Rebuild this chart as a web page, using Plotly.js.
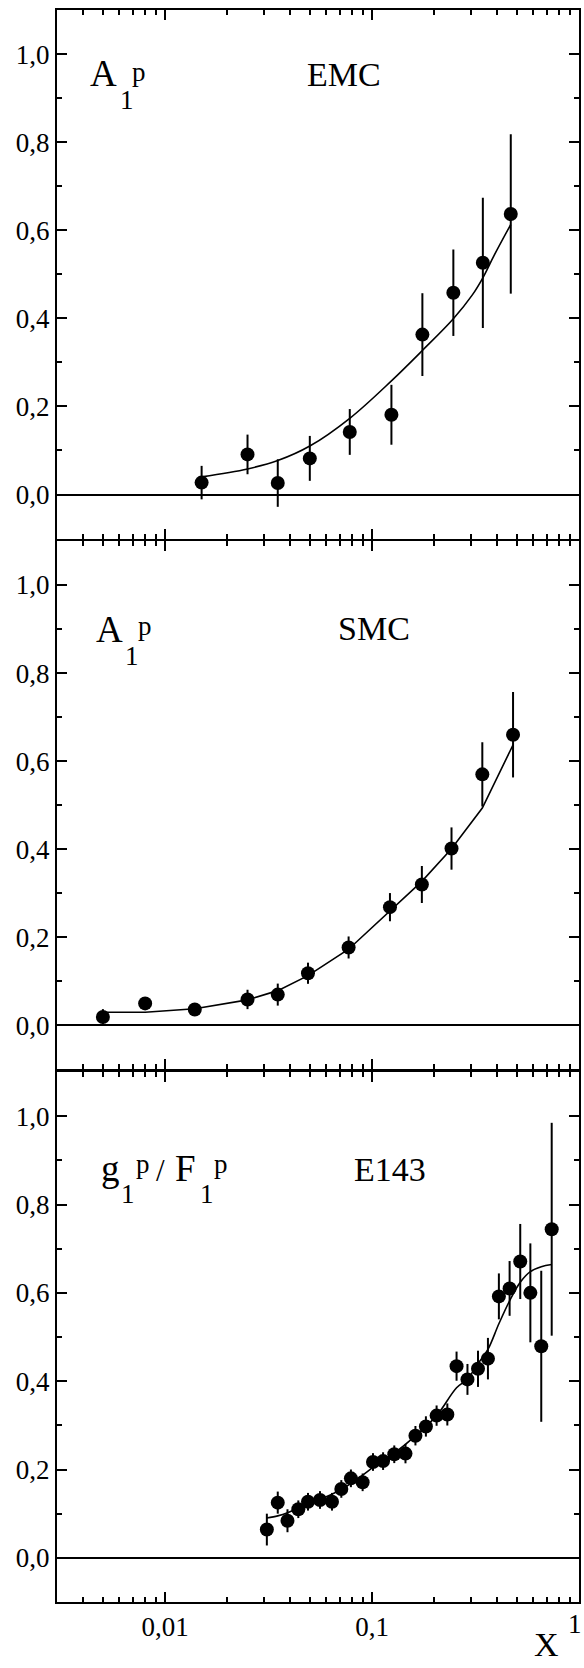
<!DOCTYPE html>
<html><head><meta charset="utf-8">
<script src="https://cdn.plot.ly/plotly-3.0.1.min.js"></script>
<style>html,body{margin:0;padding:0;background:#fff}</style>
</head><body>
<div id="chart" style="width:584px;height:1668px"></div>
<script>
// ---- EMC ----
const emcX   = [0.0150, 0.0250, 0.0350, 0.0500, 0.0780, 0.1240, 0.1750, 0.2470, 0.3430, 0.4680];
const emcY   = [0.027, 0.091, 0.026, 0.082, 0.142, 0.181, 0.363, 0.458, 0.526, 0.637];
const emcErr = [0.038, 0.045, 0.054, 0.051, 0.052, 0.068, 0.094, 0.098, 0.148, 0.181];
const emcFitX = [0.0150, 0.0250, 0.0350, 0.0500, 0.0780, 0.1240, 0.1750, 0.2470, 0.3040, 0.3430, 0.3900, 0.4680];
const emcFitY = [0.040, 0.058, 0.077, 0.110, 0.173, 0.258, 0.327, 0.399, 0.452, 0.492, 0.544, 0.613];
// ---- SMC ----
const smcX   = [0.0050, 0.0080, 0.0139, 0.0250, 0.0350, 0.0490, 0.0770, 0.1220, 0.1740, 0.2420, 0.3410, 0.4800];
const smcY   = [0.019, 0.050, 0.036, 0.059, 0.070, 0.1185, 0.177, 0.2685, 0.320, 0.4016, 0.570, 0.660];
const smcErr = [0.018, 0.010, 0.010, 0.022, 0.025, 0.024, 0.025, 0.032, 0.042, 0.048, 0.073, 0.097];
const smcFitY = [0.030, 0.030, 0.038, 0.058, 0.079, 0.113, 0.173, 0.260, 0.327, 0.401, 0.4935, 0.637];
// ---- E143 ----
const e143X = [0.031, 0.035, 0.039, 0.044, 0.049, 0.056, 0.064, 0.071, 0.079, 0.090, 0.101, 0.113, 0.128, 0.145,
               0.162, 0.182, 0.205, 0.231, 0.256, 0.289, 0.325, 0.363, 0.410, 0.462, 0.520, 0.582, 0.657, 0.738];
const e143Y = [0.064, 0.125, 0.084, 0.110, 0.127, 0.131, 0.127, 0.156, 0.180, 0.171, 0.217, 0.219, 0.2345, 0.236,
               0.2765, 0.2975, 0.322, 0.3246, 0.434, 0.404, 0.428, 0.451, 0.592, 0.610, 0.671, 0.600, 0.479, 0.744];
const e143Err = [0.036, 0.025, 0.026, 0.020, 0.020, 0.020, 0.020, 0.020, 0.020, 0.020, 0.020, 0.020, 0.020, 0.022,
                 0.022, 0.023, 0.023, 0.025, 0.033, 0.035, 0.041, 0.047, 0.052, 0.062, 0.085, 0.112, 0.171, 0.241];
const e143FitX = [0.031, 0.035, 0.039, 0.044, 0.049, 0.056, 0.064, 0.079, 0.101, 0.128, 0.162, 0.205, 0.256, 0.289,
                  0.325, 0.363, 0.410, 0.462, 0.520, 0.582, 0.657, 0.738];
const e143FitY = [0.090, 0.095, 0.102, 0.113, 0.124, 0.133, 0.144, 0.168, 0.205, 0.237, 0.276, 0.322, 0.385, 0.405,
                  0.440, 0.472, 0.530, 0.582, 0.624, 0.648, 0.659, 0.664];

const xTickVals = [0.01, 0.1, 1];
const xTickText = ['0,01', '0,1', ''];   // the "1" label is set as an annotation so it stays inside the page
const xLastLabel = '1';
const yTickVals = [0, 0.2, 0.4, 0.6, 0.8, 1.0];

const FONT = 'Liberation Serif, Times New Roman, serif';
const L = 57, R = 579, T = 10, B = 1602;
const px = x => (x - L) / (R - L);
const py = y => (B - y) / (B - T);

const minorX = [];
[0.001, 0.01, 0.1].forEach(d => { for (let k = 2; k <= 9; k++) minorX.push(+(k * d).toPrecision(3)); });

function xax(showLabels, anchor) {
  return {
    type: 'log', range: [Math.log10(0.003), 0], anchor: anchor,
    tickmode: 'array', tickvals: xTickVals, ticktext: xTickText,
    ticks: 'inside', ticklen: 10, tickwidth: 2, tickcolor: '#000',
    linewidth: 2, linecolor: '#000', mirror: 'ticks',
    showgrid: false, zeroline: false, showticklabels: showLabels,
    minor: {tickmode: 'array', tickvals: minorX, ticks: 'inside', ticklen: 5, tickwidth: 2, tickcolor: '#000', showgrid: false},
    tickfont: {family: FONT, size: 27, color: '#000'}
  };
}
function yax(domain, anchor) {
  return {
    domain: domain, range: [-0.1, 1.1], anchor: anchor,
    tickmode: 'array', tickvals: yTickVals, tickformat: '.1f',
    ticks: 'inside', ticklen: 10, tickwidth: 2, tickcolor: '#000',
    linewidth: 2, linecolor: '#000', mirror: 'ticks',
    showgrid: false, zeroline: true, zerolinewidth: 2, zerolinecolor: '#000',
    minor: {dtick: 0.1, tick0: 0, ticks: 'inside', ticklen: 5, tickwidth: 2, tickcolor: '#000', showgrid: false},
    tickfont: {family: FONT, size: 27, color: '#000'}
  };
}

function dataTrace(x, y, e, xa, ya) {
  return {x: x, y: y, xaxis: xa, yaxis: ya, type: 'scatter', mode: 'markers',
    marker: {size: 14, color: '#000'},
    error_y: {type: 'data', array: e, visible: true, thickness: 2, width: 0, color: '#000'},
    showlegend: false, hoverinfo: 'skip'};
}
function fitTrace(x, y, xa, ya, shape) {
  return {x: x, y: y, xaxis: xa, yaxis: ya, type: 'scatter', mode: 'lines',
    line: {color: '#000', width: 1.6, shape: shape, smoothing: 1},
    showlegend: false, hoverinfo: 'skip'};
}

const traces = [
  fitTrace(emcFitX, emcFitY, 'x', 'y', 'spline'),
  dataTrace(emcX, emcY, emcErr, 'x', 'y'),
  fitTrace(smcX, smcFitY, 'x2', 'y2', 'linear'),
  dataTrace(smcX, smcY, smcErr, 'x2', 'y2'),
  fitTrace(e143FitX, e143FitY, 'x3', 'y3', 'spline'),
  dataTrace(e143X, e143Y, e143Err, 'x3', 'y3')
];

function ann(text, x, baseline, size, anchor) {
  return {text: text, xref: 'paper', yref: 'paper', x: px(x), y: py(baseline - 0.3375 * size),
    xanchor: anchor || 'left', yanchor: 'middle', showarrow: false,
    font: {family: FONT, size: size, color: '#000'}};
}
const BIG = 34, LET = 37, SM = 27;
const annotations = [
  // panel 1
  ann('A', 88, 86, LET), ann('1', 118, 109, SM), ann('p', 130, 81, SM),
  ann('EMC', 344, 86, BIG, 'center'),
  // panel 2
  ann('A', 94, 642, LET), ann('1', 123, 665, SM), ann('p', 136, 635, SM),
  ann('SMC', 374, 640, BIG, 'center'),
  // panel 3
  ann('g', 99, 1181, LET), ann('1', 119, 1203, SM), ann('p', 134, 1173, SM),
  ann('/', 160.5, 1181, 31, 'center'),
  ann('F', 173, 1181, LET), ann('1', 198, 1203, SM), ann('p', 212, 1173, SM),
  ann('E143', 390, 1181, BIG, 'center'),
  // x label
  ann('X', 546, 1656, BIG, 'center'),
  // last x tick label (x = 1 on the bottom axis), kept inside the page
  {text: xLastLabel, xref: 'paper', yref: 'paper', x: px(584), y: py(1641),
   xanchor: 'right', yanchor: 'bottom', showarrow: false,
   font: {family: FONT, size: 27, color: '#000'}}
];

const layout = {
  width: 584, height: 1668,
  margin: {l: L, r: 584 - R, t: T, b: 1668 - B, pad: 0},
  paper_bgcolor: '#fff', plot_bgcolor: '#fff',
  separators: ', ',
  font: {family: FONT, color: '#000'},
  xaxis: xax(false, 'y'),
  yaxis: yax([0.6680, 1], 'x'),
  xaxis2: xax(false, 'y2'),
  yaxis2: yax([0.3345, 0.6665], 'x2'),
  xaxis3: xax(true, 'y3'),
  yaxis3: yax([0, 0.3329], 'x3'),
  annotations: annotations,
  showlegend: false
};

Plotly.newPlot('chart', traces, layout, {staticPlot: true, displayModeBar: false});
</script>
</body></html>
